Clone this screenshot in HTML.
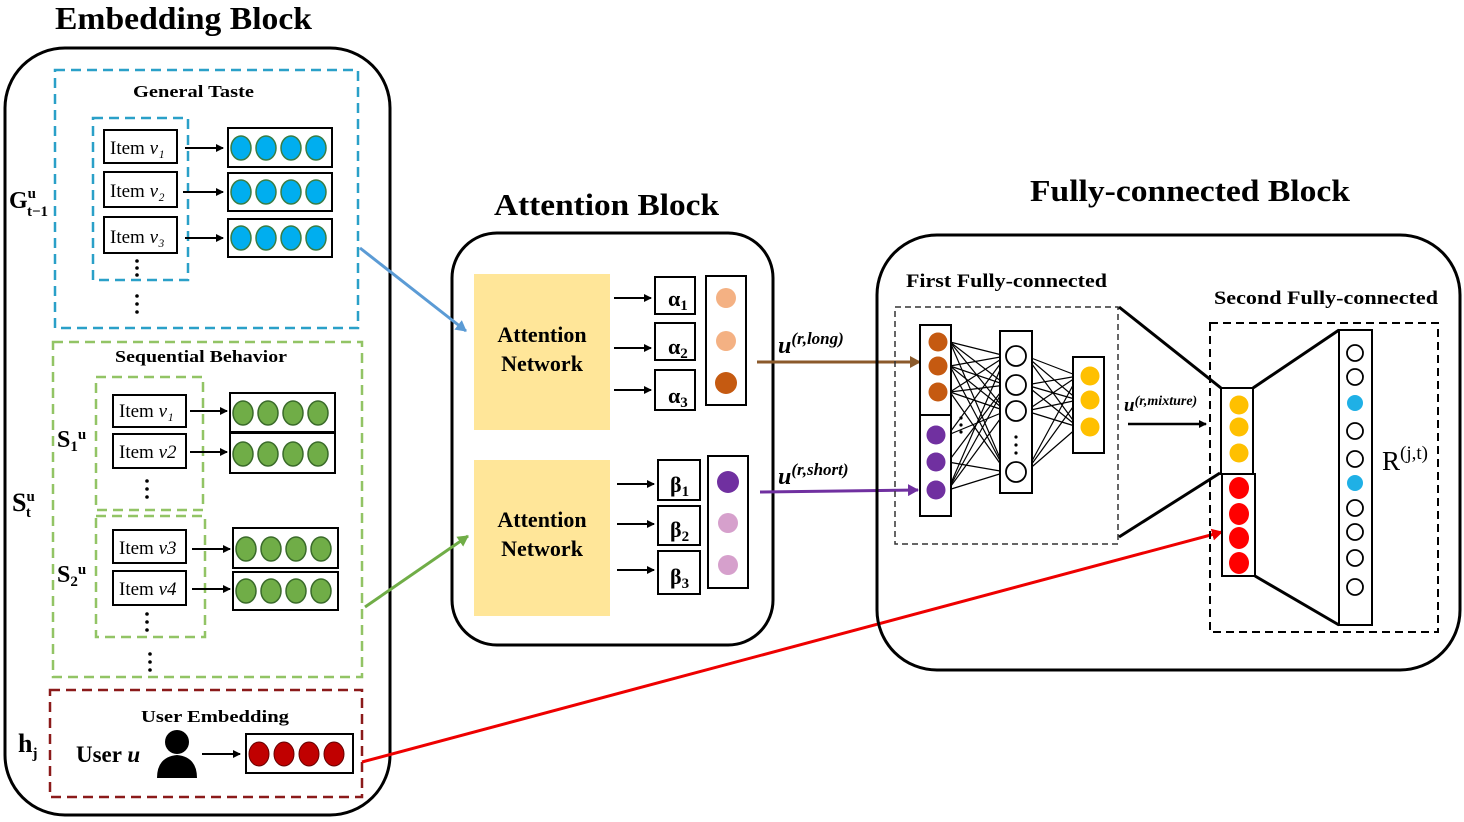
<!DOCTYPE html>
<html><head><meta charset="utf-8"><style>body{margin:0;background:#fff}svg{display:block}</style></head><body>
<svg width="1464" height="822" viewBox="0 0 1464 822" xmlns="http://www.w3.org/2000/svg" font-family="Liberation Serif, serif">
<defs>
<marker id="ab" markerWidth="8" markerHeight="8" refX="7" refY="4" orient="auto" markerUnits="userSpaceOnUse"><path d="M0,0 L8,4 L0,8 z" fill="#000"/></marker>
<marker id="abl" markerWidth="12" markerHeight="12" refX="10" refY="6" orient="auto" markerUnits="userSpaceOnUse"><path d="M0,0 L11,6 L0,12 z" fill="#5b9bd5"/></marker>
<marker id="agr" markerWidth="12" markerHeight="12" refX="10" refY="6" orient="auto" markerUnits="userSpaceOnUse"><path d="M0,0 L11,6 L0,12 z" fill="#70ad47"/></marker>
<marker id="abr" markerWidth="12" markerHeight="12" refX="10" refY="6" orient="auto" markerUnits="userSpaceOnUse"><path d="M0,0 L11,6 L0,12 z" fill="#8b5a2b"/></marker>
<marker id="apu" markerWidth="12" markerHeight="12" refX="10" refY="6" orient="auto" markerUnits="userSpaceOnUse"><path d="M0,0 L11,6 L0,12 z" fill="#7030a0"/></marker>
<marker id="are" markerWidth="12" markerHeight="12" refX="10" refY="6" orient="auto" markerUnits="userSpaceOnUse"><path d="M0,0 L11,6 L0,12 z" fill="#e00"/></marker>
</defs>

<!-- Titles -->
<text x="55" y="29" font-size="32" font-weight="bold" textLength="257" lengthAdjust="spacingAndGlyphs">Embedding Block</text>
<text x="494" y="215" font-size="31" font-weight="bold" textLength="225" lengthAdjust="spacingAndGlyphs">Attention Block</text>
<text x="1030" y="201" font-size="31" font-weight="bold" textLength="320" lengthAdjust="spacingAndGlyphs">Fully-connected Block</text>

<!-- Embedding block -->
<rect x="5" y="48" width="385" height="767" rx="60" fill="none" stroke="#000" stroke-width="3"/>
<rect x="55" y="70" width="303" height="258" fill="none" stroke="#2aa0c8" stroke-width="2.5" stroke-dasharray="10,6"/>
<text x="133" y="97" font-size="17" font-weight="bold" textLength="121" lengthAdjust="spacingAndGlyphs">General Taste</text>
<rect x="93" y="118" width="95" height="162" fill="none" stroke="#2aa0c8" stroke-width="2.5" stroke-dasharray="10,6"/>
<g stroke="#000" stroke-width="2" fill="#fff">
<rect x="104" y="130" width="73" height="33"/><rect x="104" y="172" width="73" height="35"/><rect x="104" y="217" width="73" height="36"/>
<rect x="228" y="128" width="104" height="39"/><rect x="228" y="173" width="104" height="38"/><rect x="228" y="219" width="104" height="38"/>
</g>
<g font-size="19"><text x="110" y="154">Item <tspan font-style="italic">v₁</tspan></text><text x="110" y="197">Item <tspan font-style="italic">v₂</tspan></text><text x="110" y="243">Item <tspan font-style="italic">v₃</tspan></text></g>
<g stroke="#000" stroke-width="2" marker-end="url(#ab)"><line x1="185" y1="148" x2="223" y2="148"/><line x1="183" y1="192" x2="223" y2="192"/><line x1="185" y1="238" x2="223" y2="238"/></g>
<g fill="#00aeef" stroke="#3a7d44" stroke-width="1.5">
<ellipse cx="241" cy="148" rx="10" ry="12"/><ellipse cx="266" cy="148" rx="10" ry="12"/><ellipse cx="291" cy="148" rx="10" ry="12"/><ellipse cx="316" cy="148" rx="10" ry="12"/>
<ellipse cx="241" cy="192" rx="10" ry="12"/><ellipse cx="266" cy="192" rx="10" ry="12"/><ellipse cx="291" cy="192" rx="10" ry="12"/><ellipse cx="316" cy="192" rx="10" ry="12"/>
<ellipse cx="241" cy="238" rx="10" ry="12"/><ellipse cx="266" cy="238" rx="10" ry="12"/><ellipse cx="291" cy="238" rx="10" ry="12"/><ellipse cx="316" cy="238" rx="10" ry="12"/>
</g>
<g fill="#000"><circle cx="137" cy="261" r="1.8"/><circle cx="137" cy="268" r="1.8"/><circle cx="137" cy="275" r="1.8"/><circle cx="137" cy="296" r="1.8"/><circle cx="137" cy="304" r="1.8"/><circle cx="137" cy="312" r="1.8"/></g>

<rect x="53" y="342" width="309" height="335" fill="none" stroke="#92c465" stroke-width="2.5" stroke-dasharray="10,6"/>
<text x="115" y="362" font-size="17" font-weight="bold" textLength="172" lengthAdjust="spacingAndGlyphs">Sequential Behavior</text>
<rect x="96" y="377" width="107" height="133" fill="none" stroke="#92c465" stroke-width="2.5" stroke-dasharray="10,6"/>
<rect x="96" y="516" width="109" height="121" fill="none" stroke="#92c465" stroke-width="2.5" stroke-dasharray="10,6"/>
<g stroke="#000" stroke-width="2" fill="#fff">
<rect x="113" y="395" width="73" height="32"/><rect x="113" y="434" width="73" height="34"/><rect x="113" y="530" width="73" height="33"/><rect x="113" y="571" width="73" height="34"/>
<rect x="230" y="393" width="105" height="39"/><rect x="230" y="433" width="105" height="40"/><rect x="233" y="528" width="105" height="40"/><rect x="233" y="572" width="105" height="38"/>
</g>
<g font-size="19"><text x="119" y="417">Item <tspan font-style="italic">v₁</tspan></text><text x="119" y="458">Item <tspan font-style="italic">v2</tspan></text><text x="119" y="554">Item <tspan font-style="italic">v3</tspan></text><text x="119" y="595">Item <tspan font-style="italic">v4</tspan></text></g>
<g stroke="#000" stroke-width="2" marker-end="url(#ab)"><line x1="190" y1="411" x2="227" y2="411"/><line x1="190" y1="452" x2="227" y2="452"/><line x1="192" y1="549" x2="230" y2="549"/><line x1="192" y1="589" x2="230" y2="589"/></g>
<g fill="#70ad47" stroke="#3a6b2a" stroke-width="1.5">
<ellipse cx="243" cy="413" rx="10" ry="12"/><ellipse cx="268" cy="413" rx="10" ry="12"/><ellipse cx="293" cy="413" rx="10" ry="12"/><ellipse cx="318" cy="413" rx="10" ry="12"/>
<ellipse cx="243" cy="454" rx="10" ry="12"/><ellipse cx="268" cy="454" rx="10" ry="12"/><ellipse cx="293" cy="454" rx="10" ry="12"/><ellipse cx="318" cy="454" rx="10" ry="12"/>
<ellipse cx="246" cy="549" rx="10" ry="12"/><ellipse cx="271" cy="549" rx="10" ry="12"/><ellipse cx="296" cy="549" rx="10" ry="12"/><ellipse cx="321" cy="549" rx="10" ry="12"/>
<ellipse cx="246" cy="591" rx="10" ry="12"/><ellipse cx="271" cy="591" rx="10" ry="12"/><ellipse cx="296" cy="591" rx="10" ry="12"/><ellipse cx="321" cy="591" rx="10" ry="12"/>
</g>
<g fill="#000"><circle cx="147" cy="481" r="1.8"/><circle cx="147" cy="489" r="1.8"/><circle cx="147" cy="497" r="1.8"/><circle cx="147" cy="614" r="1.8"/><circle cx="147" cy="622" r="1.8"/><circle cx="147" cy="630" r="1.8"/><circle cx="150" cy="654" r="1.8"/><circle cx="150" cy="662" r="1.8"/><circle cx="150" cy="670" r="1.8"/></g>

<rect x="50" y="690" width="312" height="107" fill="none" stroke="#8b1a1a" stroke-width="2.5" stroke-dasharray="10,6"/>
<text x="141" y="722" font-size="17" font-weight="bold" textLength="148" lengthAdjust="spacingAndGlyphs">User Embedding</text>
<text x="76" y="762" font-size="23" font-weight="bold">User <tspan font-style="italic">u</tspan></text>
<circle cx="177" cy="742" r="12" fill="#000"/><path d="M157,778 Q157,757 177,755 Q197,757 197,778 z" fill="#000"/>
<line x1="202" y1="754" x2="240" y2="754" stroke="#000" stroke-width="2" marker-end="url(#ab)"/>
<rect x="246" y="734" width="107" height="39" fill="#fff" stroke="#000" stroke-width="2"/>
<g fill="#c00000" stroke="#600" stroke-width="1"><ellipse cx="259" cy="754" rx="10" ry="12"/><ellipse cx="284" cy="754" rx="10" ry="12"/><ellipse cx="309" cy="754" rx="10" ry="12"/><ellipse cx="334" cy="754" rx="10" ry="12"/></g>

<g font-weight="bold" font-size="24">
<text x="9" y="208">G<tspan font-size="15" dy="-10">u</tspan><tspan font-size="15" dx="-9" dy="18">t−1</tspan></text>
<text x="57" y="447">S<tspan font-size="15" dy="4">1</tspan><tspan font-size="15" dy="-12">u</tspan></text>
<text x="12" y="511" font-size="26">S<tspan font-size="15" dy="-10">u</tspan><tspan font-size="15" dx="-9" dy="16">t</tspan></text>
<text x="57" y="582">S<tspan font-size="15" dy="4">2</tspan><tspan font-size="15" dy="-12">u</tspan></text>
<text x="18" y="752" font-size="26">h<tspan font-size="15" dy="6">j</tspan></text>
</g>

<!-- Attention block -->
<rect x="452" y="233" width="321" height="412" rx="45" fill="none" stroke="#000" stroke-width="3"/>
<rect x="474" y="274" width="136" height="156" fill="#ffe699"/>
<rect x="474" y="460" width="136" height="156" fill="#ffe699"/>
<g font-size="22" font-weight="bold" text-anchor="middle"><text x="542" y="342">Attention</text><text x="542" y="371">Network</text><text x="542" y="527">Attention</text><text x="542" y="556">Network</text></g>
<g stroke="#000" stroke-width="2" fill="#fff">
<rect x="655" y="277" width="40" height="37"/><rect x="655" y="323" width="40" height="37"/><rect x="655" y="370" width="40" height="40"/>
<rect x="706" y="276" width="40" height="129"/>
<rect x="658" y="460" width="42" height="40"/><rect x="658" y="506" width="42" height="39"/><rect x="658" y="551" width="42" height="43"/>
<rect x="708" y="456" width="40" height="132"/>
</g>
<g font-size="22" font-weight="bold"><text x="668" y="306">α<tspan font-size="15" dy="4">1</tspan></text><text x="668" y="354">α<tspan font-size="15" dy="4">2</tspan></text><text x="668" y="403">α<tspan font-size="15" dy="4">3</tspan></text>
<text x="670" y="492">β<tspan font-size="15" dy="4">1</tspan></text><text x="670" y="537">β<tspan font-size="15" dy="4">2</tspan></text><text x="670" y="584">β<tspan font-size="15" dy="4">3</tspan></text></g>
<g stroke="#000" stroke-width="2" marker-end="url(#ab)"><line x1="614" y1="298" x2="651" y2="298"/><line x1="614" y1="348" x2="651" y2="348"/><line x1="614" y1="390" x2="651" y2="390"/><line x1="617" y1="484" x2="654" y2="484"/><line x1="617" y1="524" x2="654" y2="524"/><line x1="617" y1="570" x2="654" y2="570"/></g>
<circle cx="726" cy="298" r="10" fill="#f4b183"/><circle cx="726" cy="341" r="10" fill="#f4b183"/><circle cx="726" cy="383" r="11" fill="#c55a11"/>
<circle cx="728" cy="482" r="11" fill="#7030a0"/><circle cx="728" cy="523" r="10" fill="#d6a0cc"/><circle cx="728" cy="565" r="10" fill="#d6a0cc"/>

<!-- Connectors -->
<line x1="360" y1="248" x2="466" y2="331" stroke="#5b9bd5" stroke-width="3" marker-end="url(#abl)"/>
<line x1="365" y1="607" x2="468" y2="536" stroke="#70ad47" stroke-width="3" marker-end="url(#agr)"/>
<line x1="757" y1="362" x2="920" y2="362" stroke="#8b5a2b" stroke-width="3" marker-end="url(#abr)"/>
<line x1="760" y1="492" x2="918" y2="490" stroke="#7030a0" stroke-width="3" marker-end="url(#apu)"/>
<line x1="362" y1="762" x2="1222" y2="532" stroke="#e00" stroke-width="3" marker-end="url(#are)"/>
<text x="778" y="353" font-size="24" font-weight="bold" font-style="italic">u<tspan font-size="17" dy="-9">(r,long)</tspan></text>
<text x="778" y="484" font-size="24" font-weight="bold" font-style="italic">u<tspan font-size="17" dy="-9">(r,short)</tspan></text>

<!-- FC block -->
<rect x="877" y="235" width="583" height="435" rx="60" fill="none" stroke="#000" stroke-width="3"/>
<text x="906" y="287" font-size="19" font-weight="bold" textLength="201" lengthAdjust="spacingAndGlyphs">First Fully-connected</text>
<text x="1214" y="304" font-size="19" font-weight="bold" textLength="224" lengthAdjust="spacingAndGlyphs">Second Fully-connected</text>
<rect x="895" y="307" width="223" height="237" fill="none" stroke="#333" stroke-width="1.5" stroke-dasharray="6,4"/>
<rect x="1210" y="323" width="228" height="309" fill="none" stroke="#000" stroke-width="2" stroke-dasharray="8,5"/>
<g stroke="#000" stroke-width="1.2">
<line x1="950" y1="342" x2="1006" y2="356"/><line x1="950" y1="342" x2="1006" y2="385"/><line x1="950" y1="342" x2="1006" y2="411"/><line x1="950" y1="342" x2="1006" y2="472"/>
<line x1="950" y1="366" x2="1006" y2="356"/><line x1="950" y1="366" x2="1006" y2="385"/><line x1="950" y1="366" x2="1006" y2="411"/><line x1="950" y1="366" x2="1006" y2="472"/>
<line x1="950" y1="392" x2="1006" y2="356"/><line x1="950" y1="392" x2="1006" y2="385"/><line x1="950" y1="392" x2="1006" y2="411"/><line x1="950" y1="392" x2="1006" y2="472"/>
<line x1="948" y1="435" x2="1006" y2="356"/><line x1="948" y1="435" x2="1006" y2="411"/><line x1="948" y1="462" x2="1006" y2="385"/><line x1="948" y1="462" x2="1006" y2="472"/>
<line x1="948" y1="490" x2="1006" y2="356"/><line x1="948" y1="490" x2="1006" y2="385"/><line x1="948" y1="490" x2="1006" y2="411"/><line x1="948" y1="490" x2="1006" y2="472"/>
<line x1="1026" y1="356" x2="1078" y2="376"/><line x1="1026" y1="356" x2="1078" y2="400"/><line x1="1026" y1="356" x2="1078" y2="427"/>
<line x1="1026" y1="385" x2="1078" y2="376"/><line x1="1026" y1="385" x2="1078" y2="400"/><line x1="1026" y1="385" x2="1078" y2="427"/>
<line x1="1026" y1="411" x2="1078" y2="376"/><line x1="1026" y1="411" x2="1078" y2="400"/><line x1="1026" y1="411" x2="1078" y2="427"/>
<line x1="1026" y1="472" x2="1078" y2="376"/><line x1="1026" y1="472" x2="1078" y2="400"/><line x1="1026" y1="472" x2="1078" y2="427"/>
</g>
<g stroke="#000" stroke-width="2" fill="#fff">
<rect x="920" y="325" width="31" height="90"/><rect x="920" y="415" width="31" height="101"/>
<rect x="1000" y="331" width="32" height="162"/>
<rect x="1073" y="357" width="31" height="96"/>
<rect x="1221" y="388" width="32" height="86"/><rect x="1222" y="474" width="33" height="102"/>
<rect x="1339" y="330" width="33" height="295"/>
</g>
<circle cx="938" cy="342" r="9.5" fill="#c55a11"/><circle cx="938" cy="366" r="9.5" fill="#c55a11"/><circle cx="938" cy="392" r="9.5" fill="#c55a11"/>
<circle cx="936" cy="435" r="9.5" fill="#7030a0"/><circle cx="936" cy="462" r="9.5" fill="#7030a0"/><circle cx="936" cy="490" r="9.5" fill="#7030a0"/>
<g fill="#000"><circle cx="961" cy="418" r="1.6"/><circle cx="961" cy="425" r="1.6"/><circle cx="961" cy="432" r="1.6"/><circle cx="1016" cy="437" r="1.6"/><circle cx="1016" cy="445" r="1.6"/><circle cx="1016" cy="453" r="1.6"/></g>
<g fill="#fff" stroke="#000" stroke-width="1.8"><circle cx="1016" cy="356" r="10"/><circle cx="1016" cy="385" r="10"/><circle cx="1016" cy="411" r="10"/><circle cx="1016" cy="472" r="10"/></g>
<circle cx="1090" cy="376" r="9.5" fill="#ffc000"/><circle cx="1090" cy="400" r="9.5" fill="#ffc000"/><circle cx="1090" cy="427" r="9.5" fill="#ffc000"/>
<circle cx="1239" cy="405" r="9.5" fill="#ffc000"/><circle cx="1239" cy="427" r="9.5" fill="#ffc000"/><circle cx="1239" cy="453" r="9.5" fill="#ffc000"/>
<ellipse cx="1239" cy="488" rx="10" ry="11" fill="#f00"/><ellipse cx="1239" cy="514" rx="10" ry="11" fill="#f00"/><ellipse cx="1239" cy="538" rx="10" ry="11" fill="#f00"/><ellipse cx="1239" cy="563" rx="10" ry="11" fill="#f00"/>
<g fill="#fff" stroke="#000" stroke-width="1.8">
<circle cx="1355" cy="353" r="8"/><circle cx="1355" cy="377" r="8"/><circle cx="1355" cy="431" r="8"/><circle cx="1355" cy="459" r="8"/><circle cx="1355" cy="508" r="8"/><circle cx="1355" cy="532" r="8"/><circle cx="1355" cy="558" r="8"/><circle cx="1355" cy="587" r="8"/>
</g>
<circle cx="1355" cy="403" r="8" fill="#1fb0e6"/><circle cx="1355" cy="483" r="8" fill="#1fb0e6"/>
<g stroke="#000" stroke-width="3"><line x1="1119" y1="307" x2="1221" y2="388"/><line x1="1119" y1="537" x2="1220" y2="473"/><line x1="1253" y1="388" x2="1339" y2="330"/><line x1="1255" y1="576" x2="1339" y2="625"/></g>
<text x="1124" y="411" font-size="19" font-weight="bold" font-style="italic">u<tspan font-size="14" dy="-6">(r,mixture)</tspan></text>
<line x1="1128" y1="424" x2="1206" y2="424" stroke="#000" stroke-width="2.5" marker-end="url(#ab)"/>
<text x="1382" y="470" font-size="27">R<tspan font-size="19" dy="-11">(j,t)</tspan></text>
</svg>
</body></html>
